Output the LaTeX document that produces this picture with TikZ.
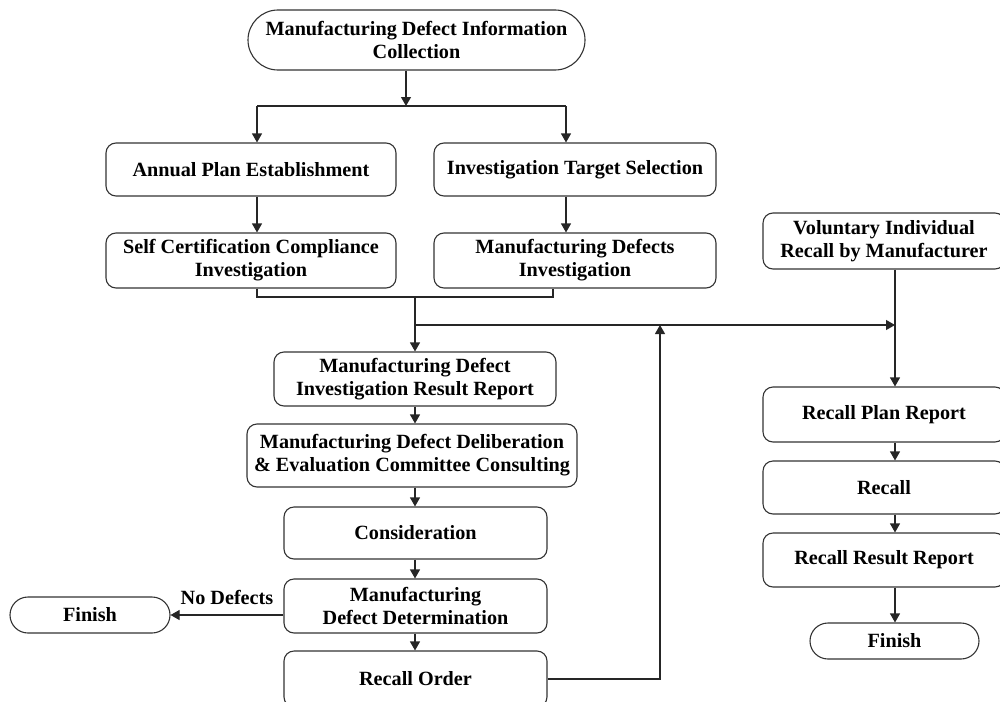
\documentclass[tikz,border=0pt]{standalone}
\usepackage{fontspec}
\setmainfont{Liberation Serif}
\usetikzlibrary{arrows.meta}
\begin{document}
\begin{tikzpicture}[x=1pt,y=-1pt,
  font=\fontsize{20.2}{23}\selectfont\bfseries,
  box/.style={draw=black!80, line width=1.1pt, rounded corners=10pt, inner sep=0pt, align=center},
  term/.style={draw=black!80, line width=1.1pt, rounded corners=18pt, inner sep=0pt, align=center},
  conn/.style={line width=1.1pt, draw=black!85},
  arr/.style={conn, -{Triangle[length=9pt,width=10pt]}}]
\useasboundingbox (0,0) rectangle (1000,701);
\clip (0,0) rectangle (1000,701);

% nodes
\node[box, rounded corners=30pt, minimum width=337pt, minimum height=60pt] (collect) at (416.5,40) {Manufacturing Defect Information\\Collection};
\node[box, minimum width=290pt, minimum height=53pt] (annual) at (251,169.5) {Annual Plan Establishment};
\node[box, minimum width=282pt, minimum height=53pt] (target) at (575,169.5) {Investigation Target Selection};
\node[box, minimum width=290pt, minimum height=55pt] (selfcert) at (251,260.5) {Self Certification Compliance\\Investigation};
\node[box, minimum width=282pt, minimum height=55pt] (mdinv) at (575,260.5) {Manufacturing Defects\\Investigation};
\node[box, minimum width=282pt, minimum height=54pt] (result) at (415,379) {Manufacturing Defect\\Investigation Result Report};
\node[box, minimum width=330pt, minimum height=63pt] (delib) at (412,455.5) {Manufacturing Defect Deliberation\\\& Evaluation Committee Consulting};
\node[box, minimum width=263pt, minimum height=52pt] (consid) at (415.5,533) {Consideration};
\node[box, minimum width=263pt, minimum height=54pt] (determ) at (415.5,606) {Manufacturing\\Defect Determination};
\node[box, minimum width=263pt, minimum height=56pt] (order) at (415.5,679) {Recall Order};
\node[term, minimum width=160pt, minimum height=36pt] (finishL) at (90,615) {Finish};
\node[box, minimum width=242pt, minimum height=56pt] (vol) at (884,241) {Voluntary Individual\\Recall by Manufacturer};
\node[box, minimum width=242pt, minimum height=55pt] (plan) at (884,414.5) {Recall Plan Report};
\node[box, minimum width=242pt, minimum height=53pt] (recall) at (884,487.5) {Recall};
\node[box, minimum width=242pt, minimum height=54pt] (rresult) at (884,560) {Recall Result Report};
\node[term, minimum width=169pt, minimum height=36pt] (finishR) at (894.5,641) {Finish};
\node (nodef) at (227,597) {No Defects};

% helper coordinates
\coordinate (split) at (406,106);
\coordinate (xl) at (257,0);
\coordinate (xr) at (566,0);
\coordinate (j1) at (415,297);
\coordinate (j2) at (415,325);
\coordinate (xm) at (553,0);
\coordinate (xv) at (895,0);
\coordinate (xb) at (660,0);

% connectors
\draw[arr] (collect.south -| split) -- (split);
\draw[conn] (split -| xl) -- (split -| xr);
\draw[arr] (split -| xl) -- (annual.north -| xl);
\draw[arr] (split -| xr) -- (target.north -| xr);
\draw[arr] (annual.south -| xl) -- (selfcert.north -| xl);
\draw[arr] (target.south -| xr) -- (mdinv.north -| xr);
\draw[conn] (selfcert.south -| xl) |- (j1 -| xm) -- (mdinv.south -| xm);
\draw[arr] (j1) -- (result.north -| j1);
\draw[arr] (j2) -- (j2 -| xv);
\draw[arr] (vol.south -| xv) -- (plan.north -| xv);
\draw[arr] (plan.south -| xv) -- (recall.north -| xv);
\draw[arr] (recall.south -| xv) -- (rresult.north -| xv);
\draw[arr] (rresult.south -| xv) -- (finishR.north -| xv);
\draw[arr] (result.south -| j1) -- (delib.north -| j1);
\draw[arr] (delib.south -| j1) -- (consid.north -| j1);
\draw[arr] (consid.south -| j1) -- (determ.north -| j1);
\draw[arr] (determ.south -| j1) -- (order.north -| j1);
\draw[arr] (determ.west |- finishL) -- (finishL.east);
\draw[arr] (order.east) -- (order.east -| xb) -- (j2 -| xb);
\end{tikzpicture}
\end{document}
